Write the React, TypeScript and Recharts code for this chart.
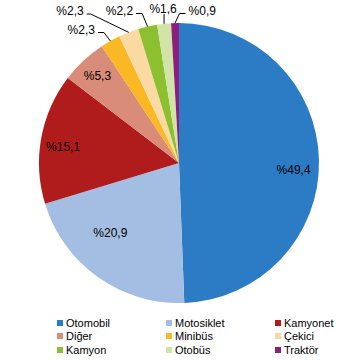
import { PieChart, Pie, Cell } from "recharts";

const categories = ["Otomobil", "Motosiklet", "Kamyonet", "Diğer", "Minibüs", "Çekici", "Kamyon", "Otobüs", "Traktör"];
const shares = [49.4, 20.9, 15.1, 5.3, 2.3, 2.3, 2.2, 1.6, 0.9];
const colors = ["#2B7CC5", "#A3BDE3", "#B01C1C", "#D98C78", "#F9B824", "#FBD9A2", "#8CC02E", "#D2E3A8", "#8E1E7E"];

const data = categories.map((name, i) => ({ name, value: shares[i] }));

const FONT = "Liberation Sans, Arial, sans-serif";
const CX = 179;
const CY = 163;
const R = 140;
const RAD = Math.PI / 180;

// label placement per slice: inside at radius rf*R, or outside with a leader line
type Place =
  | { kind: "in"; rf: number; da: number }
  | { kind: "out"; elbowDx: number; elbowY: number; tail: number; anchor: "end" | "middle" | "start" };

const PLACES: Place[] = [
  { kind: "in", rf: 0.82, da: -4.6 },
  { kind: "in", rf: 0.7, da: -9 },
  { kind: "in", rf: 0.836, da: 2.4 },
  { kind: "in", rf: 0.854, da: 0 },
  { kind: "out", elbowDx: -6.5, elbowY: 32.5, tail: 6, anchor: "end" },
  { kind: "out", elbowDx: -38, elbowY: 14, tail: 4, anchor: "end" },
  { kind: "out", elbowDx: -5.5, elbowY: 13.5, tail: 6, anchor: "end" },
  { kind: "out", elbowDx: 0, elbowY: 14, tail: 0, anchor: "middle" },
  { kind: "out", elbowDx: 4.5, elbowY: 13.5, tail: 6, anchor: "start" },
];

const fmt = (v: number) => "%" + v.toFixed(1).replace(".", ",");

function renderLabel(props: any) {
  const { cx, cy, midAngle, outerRadius, index, value } = props;
  const p = PLACES[index];
  if (p.kind === "in") {
    const a = (midAngle + p.da) * RAD;
    const r = outerRadius * p.rf;
    return (
      <text x={cx + r * Math.cos(a)} y={cy - r * Math.sin(a)} textAnchor="middle" dominantBaseline="central"
        fontFamily={FONT} fontSize={12} fill="#000">
        {fmt(value)}
      </text>
    );
  }
  const a = midAngle * RAD;
  const ex = cx + outerRadius * Math.cos(a);
  const ey = cy - outerRadius * Math.sin(a);
  const bx = ex + p.elbowDx;
  const by = p.elbowY;
  const tx = p.anchor === "end" ? bx - p.tail : p.anchor === "start" ? bx + p.tail : bx;
  const textX = p.anchor === "end" ? tx - 3 : p.anchor === "start" ? tx + 3 : tx - 1;
  const textY = p.anchor === "middle" ? by - 5 : by - 3;
  return (
    <g>
      <polyline points={`${ex},${ey} ${bx},${by} ${tx},${by}`} fill="none" stroke="#000" strokeWidth={1} />
      <text x={textX} y={textY} textAnchor={p.anchor} dominantBaseline="central"
        fontFamily={FONT} fontSize={12} fill="#000">
        {fmt(value)}
      </text>
    </g>
  );
}

const LEGEND_COLS = [57, 166, 275];

function LegendBox() {
  return (
    <div style={{ position: "absolute", left: 0, top: 316, width: 356, height: 44 }}>
      {categories.map((name, i) => {
        const col = i % 3;
        const row = Math.floor(i / 3);
        return (
          <div key={name} style={{
            position: "absolute", left: LEGEND_COLS[col], top: row * 13.4, display: "flex", alignItems: "center",
            fontFamily: FONT, fontSize: 11, color: "#000", lineHeight: "14px", whiteSpace: "nowrap",
          }}>
            <span style={{ width: 6, height: 6, background: colors[i], marginRight: 3, display: "inline-block" }} />
            {name}
          </div>
        );
      })}
    </div>
  );
}

export default function App() {
  return (
    <div style={{ position: "absolute", left: 0, top: 0, width: 356, height: 360, background: "#fff" }}>
      <PieChart width={356} height={310} margin={{ top: 0, right: 0, bottom: 0, left: 0 }}>
        <Pie
          data={data}
          dataKey="value"
          nameKey="name"
          cx={CX}
          cy={CY}
          outerRadius={R}
          startAngle={90}
          endAngle={-270}
          stroke="none"
          label={renderLabel}
          labelLine={false}
          isAnimationActive={false}
        >
          {data.map((d, i) => <Cell key={d.name} fill={colors[i]} />)}
        </Pie>
      </PieChart>
      <LegendBox />
    </div>
  );
}
